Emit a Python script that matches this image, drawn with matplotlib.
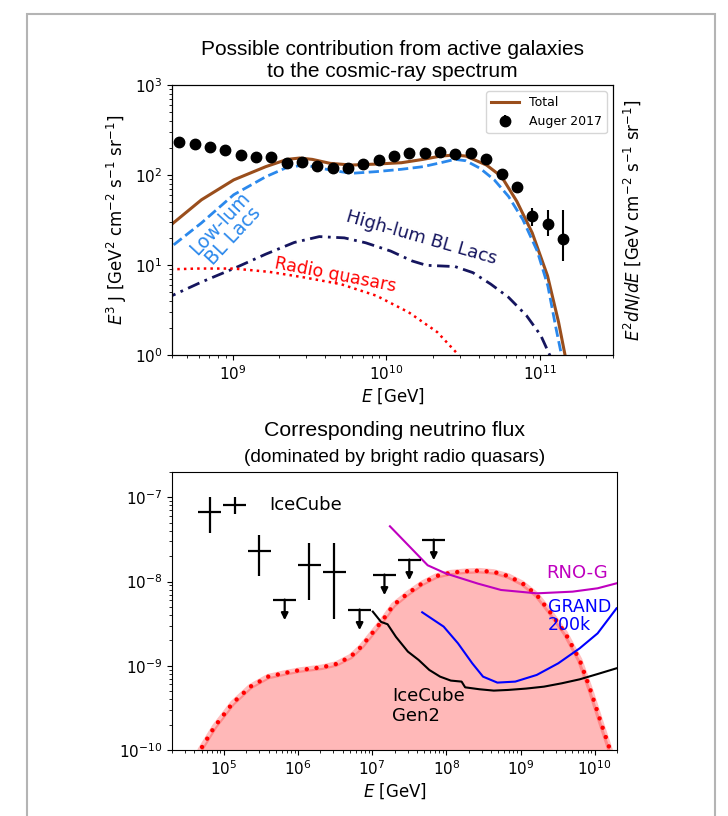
import numpy as np
import matplotlib.pyplot as plt
from matplotlib.patches import Rectangle

# ---- top panel: cosmic rays (log10 E [GeV], log10 E^3 J) ----
auger_logE = [8.65, 8.75, 8.85, 8.95, 9.05, 9.15, 9.25, 9.35, 9.45, 9.55,
              9.65, 9.75, 9.85, 9.95, 10.05, 10.15, 10.25, 10.35, 10.45, 10.55,
              10.65, 10.75, 10.85, 10.95, 11.05, 11.15]
auger_flux = [234, 219, 203, 190, 168, 157, 157, 135, 138, 126,
              119, 119, 132, 147, 164, 177, 175, 181, 171, 176,
              149, 103, 74, 35.3, 28.8, 19.2]
auger_err_lo = [0] * 23 + [8.4, 7.9, 8.2]
auger_err_hi = [0] * 23 + [7.6, 12.3, 21.9]

total_logE = [8.55, 8.603, 8.794, 9.004, 9.213, 9.353, 9.434, 9.516, 9.632, 9.772,
              9.935, 10.098, 10.238, 10.354, 10.447, 10.517, 10.652, 10.75, 10.85,
              10.95, 11.05, 11.122, 11.164, 11.19]
total_log = [1.33, 1.456, 1.724, 1.945, 2.092, 2.173, 2.188, 2.173, 2.129, 2.110,
             2.121, 2.136, 2.173, 2.210, 2.221, 2.210, 2.110, 1.982, 1.706,
             1.357, 0.879, 0.364, 0.0, -0.2]

lowlum_logE = [8.55, 8.603, 8.794, 9.004, 9.213, 9.353, 9.469, 9.632, 9.772, 9.935,
               10.098, 10.238, 10.354, 10.447, 10.517, 10.610, 10.703, 10.796,
               10.889, 10.983, 11.052, 11.106, 11.141, 11.17]
lowlum_log = [1.10, 1.21, 1.467, 1.78, 1.98, 2.085, 2.11, 2.055, 2.018, 2.037,
              2.063, 2.092, 2.136, 2.173, 2.158, 2.074, 1.945, 1.761,
              1.504, 1.154, 0.768, 0.29, 0.0, -0.2]

highlum_logE = [8.55, 8.603, 8.794, 9.004, 9.213, 9.399, 9.562, 9.725, 9.865, 10.028,
                10.168, 10.261, 10.354, 10.447, 10.563, 10.680, 10.796, 10.913,
                11.006, 11.064, 11.09]
highlum_log = [0.62, 0.66, 0.81, 0.96, 1.12, 1.25, 1.315, 1.301, 1.246, 1.154,
               1.044, 0.996, 0.989, 0.982, 0.915, 0.787, 0.640, 0.437,
               0.217, 0.0, -0.1]

radio_logE = [8.55, 8.603, 8.771, 9.004, 9.237, 9.469, 9.702, 9.935, 10.145,
              10.331, 10.47, 10.50]
radio_log = [0.95, 0.952, 0.96, 0.96, 0.923, 0.86, 0.787, 0.658, 0.474,
             0.254, 0.0, -0.1]

# ---- bottom panel: neutrinos (log10 E [GeV], log10 E^2 dN/dE) ----
nu_logE = [4.60, 4.681, 4.875, 5.116, 5.357, 5.598, 5.840, 6.033, 6.322, 6.515,
           6.708, 6.853, 6.998, 7.143, 7.288, 7.481, 7.674, 7.867, 8.060,
           8.253, 8.446, 8.639, 8.832, 9.025, 9.218, 9.411, 9.604, 9.797,
           9.942, 10.087, 10.207, 10.26]
nu_log = [-10.3, -10.0, -9.723, -9.446, -9.248, -9.129, -9.082, -9.050, -9.018, -8.979,
          -8.892, -8.773, -8.615, -8.456, -8.278, -8.140, -8.021, -7.934, -7.894,
          -7.878, -7.871, -7.886, -7.934, -8.021, -8.159, -8.377, -8.615, -8.931,
          -9.287, -9.683, -10.0, -10.2]

ic_logE = [4.811, 5.149, 5.477, 6.153, 6.486]
ic_log = [-7.178, -7.087, -7.641, -7.807, -7.886]
ic_log_lo = [-7.423, -7.202, -7.934, -8.214, -8.439]
ic_log_hi = [-6.996, -6.996, -7.443, -7.542, -7.542]
ic_halfwidth = 0.155

ul_logE = [5.82, 6.83, 7.165, 7.50, 7.83]
ul_log = [-8.214, -8.332, -7.917, -7.739, -7.502]
ul_arrow = 0.245

rno_logE = [7.239, 7.748, 7.996, 8.423, 8.736, 9.218, 9.701, 10.039, 10.294]
rno_log = [-7.344, -7.807, -7.905, -8.024, -8.100, -8.140, -8.12, -8.08, -8.021]

grand_logE = [7.674, 7.963, 8.156, 8.349, 8.494, 8.687, 8.929, 9.218, 9.508,
              9.797, 10.039, 10.294]
grand_log = [-8.365, -8.535, -8.733, -8.971, -9.129, -9.200, -9.188, -9.109, -8.971,
             -8.793, -8.615, -8.318]

gen2_logE = [7.008, 7.119, 7.207, 7.32, 7.481, 7.626, 7.770, 7.915, 8.060, 8.205,
             8.253, 8.446, 8.639, 8.832, 9.073, 9.315, 9.556, 9.797, 10.039, 10.294]
gen2_log = [-8.357, -8.479, -8.507, -8.657, -8.832, -8.931, -9.05, -9.129, -9.176, -9.188,
            -9.256, -9.279, -9.295, -9.287, -9.271, -9.248, -9.208, -9.161, -9.098, -9.030]


def p(v):
    return 10 ** np.asarray(v, dtype=float)


plt.rcParams['font.family'] = ['DejaVu Sans']
title_font = 'Liberation Sans'

fig = plt.figure(figsize=(7.28, 8.16), dpi=100)
fig.patches.append(Rectangle((27 / 728, -0.05), 688 / 728, 1.05 - 14 / 816,
                             transform=fig.transFigure, fill=False,
                             edgecolor='#b4b4b4', lw=1.5))

# ---------------- top panel ----------------
ax1 = fig.add_axes([0.2363, 0.5650, 0.6058, 0.3309])
ax1.set_xscale('log')
ax1.set_yscale('log')

ax1.plot(p(total_logE), p(total_log), color='#9a4e1c', lw=2.2, label='Total')
ax1.plot(p(lowlum_logE), p(lowlum_log), color='#2a88ec', lw=2, ls='--')
ax1.plot(p(highlum_logE), p(highlum_log), color='#15155e', lw=2,
         ls=(0, (4.5, 2, 1, 2)))
ax1.plot(p(radio_logE), p(radio_log), color='red', lw=1.8, ls=':')
ax1.errorbar(p(auger_logE), auger_flux, yerr=[auger_err_lo, auger_err_hi],
             fmt='o', color='black', ms=7.5, elinewidth=1.5, label='Auger 2017')

ax1.text(p(8.96), p(1.39), 'Low-lum\nBL Lacs', color='#2a88ec', fontsize=13.5,
         rotation=47, ha='center', va='center', linespacing=1.0)
ax1.text(p(10.226), p(1.30), 'High-lum BL Lacs', color='#15155e', fontsize=13,
         rotation=-16, ha='center', va='center')
ax1.text(p(9.665), p(0.889), 'Radio quasars', color='red', fontsize=12.5,
         rotation=-11, ha='center', va='center')

ax1.set_xlim(4e8, 3e11)
ax1.set_ylim(1, 1e3)
ax1.tick_params(labelsize=11)
ax1.set_xlabel('$E$ [GeV]', fontsize=12, labelpad=2)
ax1.set_ylabel('$E^3$ J [GeV$^2$ cm$^{-2}$ s$^{-1}$ sr$^{-1}$]', fontsize=12)
ax1.set_title('Possible contribution from active galaxies\nto the cosmic-ray spectrum',
              fontsize=15, family=title_font, pad=6, linespacing=1.15)
ax1.legend(loc='upper right', fontsize=9, handlelength=2.2)

ax1r = ax1.twinx()
ax1r.set_yticks([])
ax1r.set_ylabel('$E^2 dN/dE$ [GeV cm$^{-2}$ s$^{-1}$ sr$^{-1}$]', fontsize=12,
                labelpad=6)

# ---------------- bottom panel ----------------
ax2 = fig.add_axes([0.2363, 0.0809, 0.6113, 0.3407])
ax2.set_xscale('log')
ax2.set_yscale('log')

ax2.fill_between(p(nu_logE), p(nu_log), 1e-12, color='red', alpha=0.28, lw=0)
ax2.plot(p(nu_logE), p(nu_log), color='red', alpha=0.25, lw=4)
ax2.plot(p(nu_logE), p(nu_log), color='red', lw=3.2, ls=(0, (0.01, 2.2)),
         dash_capstyle='round')

ax2.plot(p(rno_logE), p(rno_log), color='m', lw=1.5)
ax2.plot(p(grand_logE), p(grand_log), color='blue', lw=1.5)
ax2.plot(p(gen2_logE), p(gen2_log), color='black', lw=1.5)

ic_E = p(ic_logE)
ax2.errorbar(ic_E, p(ic_log),
             xerr=[ic_E - p(np.array(ic_logE) - ic_halfwidth),
                   p(np.array(ic_logE) + ic_halfwidth) - ic_E],
             yerr=[p(ic_log) - p(ic_log_lo), p(ic_log_hi) - p(ic_log)],
             fmt='none', ecolor='black', elinewidth=1.6)
ul_E = p(ul_logE)
ax2.errorbar(ul_E, p(ul_log),
             xerr=[ul_E - p(np.array(ul_logE) - ic_halfwidth),
                   p(np.array(ul_logE) + ic_halfwidth) - ul_E],
             fmt='none', ecolor='black', elinewidth=1.6)
for xe, ye in zip(ul_logE, ul_log):
    ax2.annotate('', xy=(p(xe), p(ye - ul_arrow)), xytext=(p(xe), p(ye)),
                 arrowprops=dict(arrowstyle='-|>', color='black', lw=1.6,
                                 mutation_scale=10, shrinkA=0, shrinkB=0))

ax2.text(p(5.61), p(-7.095), 'IceCube', fontsize=13, ha='left', va='center')
ax2.text(p(7.264), p(-9.48), 'IceCube\nGen2', fontsize=13, ha='left', va='center',
         linespacing=1.1)
ax2.text(p(9.764), p(-7.898), 'RNO-G', fontsize=13, color='m', ha='center',
         va='center')
ax2.text(p(9.365), p(-8.41), 'GRAND\n200k', fontsize=12.5, color='blue', ha='left',
         va='center', linespacing=1.0)

ax2.set_xlim(2e4, 2e10)
ax2.set_ylim(1e-10, 2e-7)
ax2.tick_params(labelsize=11)
ax2.set_xlabel('$E$ [GeV]', fontsize=12, labelpad=2)
ax2.set_title('Corresponding neutrino flux', fontsize=15.3, family=title_font,
              pad=26)
ax2.text(0.5, 1.02, '(dominated by bright radio quasars)', transform=ax2.transAxes,
         fontsize=13.8, family=title_font, ha='center', va='bottom')

fig.savefig('out.png', dpi=100)
